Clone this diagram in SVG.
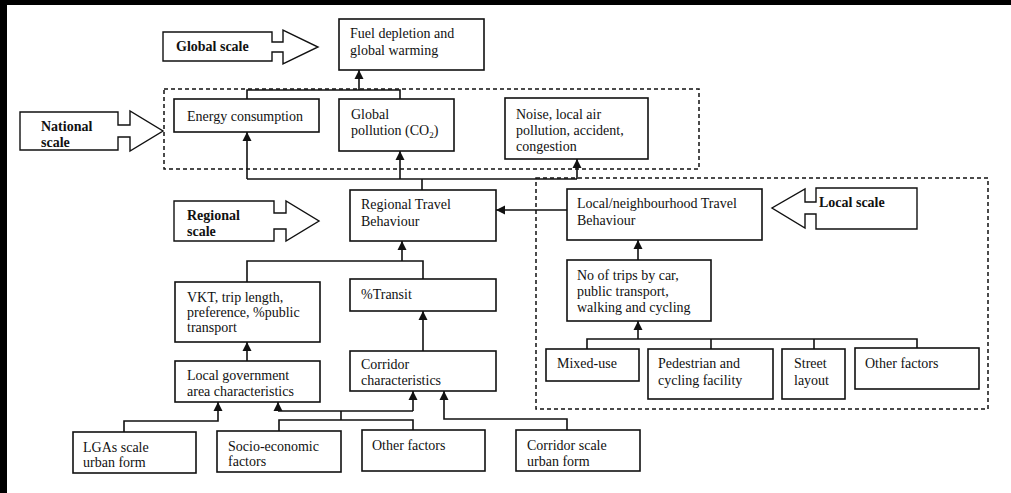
<svg xmlns="http://www.w3.org/2000/svg" width="1011" height="493" viewBox="0 0 1011 493">
<defs>
<style>
.box{fill:#fff;stroke:#111;stroke-width:1.6}
.scale{fill:#fff;stroke:#111;stroke-width:1.4}
.dash{fill:none;stroke:#111;stroke-width:1.5;stroke-dasharray:4 3}
.c{fill:none;stroke:#111;stroke-width:1.6}
text{font-family:"Liberation Serif","Times New Roman",serif;font-size:14px;fill:#111}
.b{font-weight:bold}
</style>
<marker id="ah" viewBox="0 0 10 10" refX="10" refY="5" markerWidth="9" markerHeight="10" markerUnits="userSpaceOnUse" orient="auto">
<path d="M0,0 L10,5 L0,10 Z" fill="#111"/>
</marker>
</defs>
<rect x="0" y="0" width="1011" height="493" fill="#fff"/>
<rect x="0" y="0" width="1011" height="5" fill="#000"/>
<rect x="0" y="0" width="7" height="493" fill="#000"/>

<g id="scope-national"><rect class="dash" x="164" y="89" width="535" height="80"/></g>
<g id="scope-local"><rect class="dash" x="536" y="178" width="452" height="231"/></g>

<g id="connectors">
<path class="c" d="M247,99 V90 H400 V99"/>
<path class="c" d="M359,90 V70" marker-end="url(#ah)"/>
<path class="c" d="M247,179 H577"/>
<path class="c" d="M247,179 V132" marker-end="url(#ah)"/>
<path class="c" d="M400,179 V151" marker-end="url(#ah)"/>
<path class="c" d="M577,179 V159" marker-end="url(#ah)"/>
<path class="c" d="M422,179 V190"/>
<path class="c" d="M567,210 H496" marker-end="url(#ah)"/>
<path class="c" d="M638,260 V240" marker-end="url(#ah)"/>
<path class="c" d="M638,339 V321" marker-end="url(#ah)"/>
<path class="c" d="M587,349 V339 H917 V348"/>
<path class="c" d="M711,339 V349"/>
<path class="c" d="M814,339 V349"/>
<path class="c" d="M247,282 V261 H423 V279"/>
<path class="c" d="M402,261 V241" marker-end="url(#ah)"/>
<path class="c" d="M247,361 V342" marker-end="url(#ah)"/>
<path class="c" d="M423,351 V311" marker-end="url(#ah)"/>
<path class="c" d="M124,432 V421 H218 V402" marker-end="url(#ah)"/>
<path class="c" d="M278,411 H413"/>
<path class="c" d="M278,411 V402" marker-end="url(#ah)"/>
<path class="c" d="M413,411 V391" marker-end="url(#ah)"/>
<path class="c" d="M341,411 V420"/>
<path class="c" d="M279,431 V420 H413 V430"/>
<path class="c" d="M567,430 V419 H444 V391" marker-end="url(#ah)"/>
</g>

<g id="global-scale"><path class="scale" d="M163,32 H272 V42 H283 V30 L318,47 L283,64 V52 H272 V61 H163 Z"/><text class="b" x="176" y="51">Global scale</text></g>
<g id="national-scale"><path class="scale" d="M20,112 H118 V125 H130 V111 L163,131 L130,151 V137 H118 V150 H20 Z"/><text class="b" x="41" y="131">National</text><text class="b" x="41" y="147">scale</text></g>
<g id="regional-scale"><path class="scale" d="M174,201 H274 V213 H286 V201 L319,221 L286,241 V229 H274 V241 H174 Z"/><text class="b" x="187" y="220">Regional</text><text class="b" x="187" y="236">scale</text></g>
<g id="local-scale"><path class="scale" d="M917,188 H816 V202 H805 V189 L772,208 L805,228 V214 H816 V229 H917 Z"/><text class="b" x="819" y="207">Local scale</text></g>

<g id="fuel"><rect class="box" x="339" y="19" width="145" height="51"/><text x="350" y="38">Fuel depletion and</text><text x="350" y="55">global warming</text></g>
<g id="energy"><rect class="box" x="174" y="99" width="145" height="33"/><text x="187" y="121">Energy consumption</text></g>
<g id="global-pollution"><rect class="box" x="339" y="99" width="115" height="52"/><text x="351" y="119">Global</text><text x="351" y="135">pollution (CO<tspan font-size="9" dy="3">2</tspan><tspan dy="-3">)</tspan></text></g>
<g id="noise"><rect class="box" x="505" y="98" width="143" height="61"/><text x="516" y="119">Noise, local air</text><text x="516" y="135">pollution, accident,</text><text x="516" y="151">congestion</text></g>
<g id="regional-travel"><rect class="box" x="350" y="190" width="146" height="51"/><text x="361" y="209">Regional Travel</text><text x="361" y="226">Behaviour</text></g>
<g id="local-travel"><rect class="box" x="567" y="189" width="195" height="51"/><text x="577" y="208">Local/neighbourhood Travel</text><text x="577" y="225">Behaviour</text></g>
<g id="trips"><rect class="box" x="567" y="260" width="144" height="61"/><text x="577" y="280">No of trips by car,</text><text x="577" y="296">public transport,</text><text x="577" y="312">walking and cycling</text></g>
<g id="mixed-use"><rect class="box" x="546" y="349" width="93" height="32"/><text x="557" y="368">Mixed-use</text></g>
<g id="pedestrian"><rect class="box" x="648" y="349" width="125" height="50"/><text x="658" y="368">Pedestrian and</text><text x="658" y="385">cycling facility</text></g>
<g id="street"><rect class="box" x="782" y="349" width="63" height="50"/><text x="794" y="368">Street</text><text x="794" y="385">layout</text></g>
<g id="other-local"><rect class="box" x="855" y="348" width="124" height="41"/><text x="865" y="368">Other factors</text></g>
<g id="vkt"><rect class="box" x="175" y="282" width="145" height="60"/><text x="187" y="302">VKT, trip length,</text><text x="187" y="317">preference, %public</text><text x="187" y="332">transport</text></g>
<g id="transit"><rect class="box" x="350" y="279" width="146" height="32"/><text x="361" y="299">%Transit</text></g>
<g id="lga-char"><rect class="box" x="175" y="361" width="145" height="41"/><text x="187" y="380">Local government</text><text x="187" y="396">area characteristics</text></g>
<g id="corridor-char"><rect class="box" x="350" y="351" width="146" height="40"/><text x="361" y="369">Corridor</text><text x="361" y="385">characteristics</text></g>
<g id="lgas-form"><rect class="box" x="73" y="432" width="123" height="41"/><text x="83" y="452">LGAs scale</text><text x="83" y="467">urban form</text></g>
<g id="socio"><rect class="box" x="217" y="431" width="124" height="41"/><text x="228" y="451">Socio-economic</text><text x="228" y="466">factors</text></g>
<g id="other-regional"><rect class="box" x="362" y="430" width="123" height="41"/><text x="372" y="450">Other factors</text></g>
<g id="corridor-form"><rect class="box" x="516" y="430" width="124" height="41"/><text x="527" y="450">Corridor scale</text><text x="527" y="466">urban form</text></g>
</svg>
